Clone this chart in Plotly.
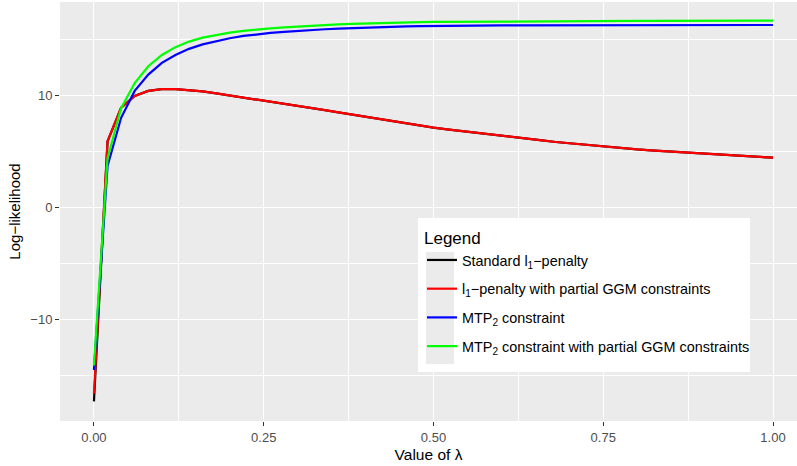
import plotly.graph_objects as go

lam = [round(i * 0.02, 2) for i in range(51)]

red = [-16.6, 5.9, 8.9, 9.95, 10.4, 10.55, 10.56, 10.48, 10.35, 10.18,
       10.0, 9.8, 9.6, 9.41, 9.22, 9.05, 8.87, 8.68, 8.48, 8.28,
       8.08, 7.88, 7.69, 7.5, 7.31, 7.12, 6.97, 6.82, 6.67, 6.52,
       6.38, 6.25, 6.11, 5.98, 5.84, 5.72, 5.6, 5.48, 5.37, 5.27,
       5.18, 5.1, 5.02, 4.95, 4.88, 4.81, 4.74, 4.67, 4.6, 4.52, 4.44]

black = [-17.3] + red[1:]

green = [-14.1, 4.4, 8.85, 11.1, 12.6, 13.6, 14.3, 14.8, 15.15, 15.4,
         15.6, 15.75, 15.88, 15.98, 16.07, 16.15, 16.22, 16.28, 16.33, 16.38,
         16.42, 16.45, 16.48, 16.51, 16.53, 16.55, 16.56, 16.57, 16.58, 16.59,
         16.6, 16.6, 16.61, 16.61, 16.62, 16.62, 16.63, 16.63, 16.63, 16.64,
         16.64, 16.64, 16.65, 16.65, 16.65, 16.65, 16.66, 16.66, 16.66, 16.66, 16.66]

blue = [-14.5, 3.7, 8.0, 10.4, 11.85, 12.9, 13.6, 14.15, 14.55, 14.85,
        15.1, 15.3, 15.45, 15.57, 15.67, 15.76, 15.84, 15.9, 15.96, 16.01,
        16.05, 16.09, 16.12, 16.15, 16.18, 16.2, 16.21, 16.22, 16.23, 16.24,
        16.24, 16.25, 16.25, 16.25, 16.26, 16.26, 16.26, 16.26, 16.27, 16.27,
        16.27, 16.27, 16.27, 16.28, 16.28, 16.28, 16.28, 16.28, 16.28, 16.28, 16.28]

series_names = [
    "Standard l<sub>1</sub>\u2212penalty",
    "l<sub>1</sub>\u2212penalty with partial GGM constraints",
    "MTP<sub>2</sub> constraint",
    "MTP<sub>2</sub> constraint with partial GGM constraints",
]
series_values = [black, red, blue, green]
series_colors = ["#000000", "#FF0000", "#0000FF", "#00FF00"]

x_ticks = [0, 0.25, 0.5, 0.75, 1.0]
x_ticklabels = ["0.00", "0.25", "0.50", "0.75", "1.00"]
y_ticks = [-10, 0, 10]
y_ticklabels = ["\u221210", "0", "10"]

fig = go.Figure()
for i, (nm, vals, col) in enumerate(zip(series_names, series_values, series_colors)):
    fig.add_trace(go.Scatter(x=lam, y=vals, mode="lines", name=nm,
                             legendgroup=f"g{i}",
                             line=dict(color=col, width=2.2)))

axis_font = "Liberation Sans, Arial, sans-serif"

# plot area geometry (pixels) used to place legend decoration
L, R, T, B = 60, 797, 2, 421
def px_x(p):
    return (p - L) / (R - L)
def px_y(p):
    return (B - p) / (B - T)

fig.update_layout(
    width=797, height=466,
    margin=dict(l=L, r=797 - R, t=T, b=466 - B, autoexpand=False),
    paper_bgcolor="white",
    plot_bgcolor="#EBEBEB",
    showlegend=True,
    legend=dict(
        title=dict(text="Legend", font=dict(size=17, color="black",
                                             family="Liberation Sans, Arial, sans-serif")),
        font=dict(size=14.4, color="black", family="Liberation Sans, Arial, sans-serif"),
        bgcolor="rgba(0,0,0,0)",
        x=px_x(422), y=px_y(222), xanchor="left", yanchor="top",
        tracegroupgap=7,
        itemwidth=30,
    ),
    xaxis=dict(
        range=[-0.05, 1.0353], automargin=False,
        tickvals=x_ticks, ticktext=x_ticklabels,
        showgrid=True, gridcolor="white", gridwidth=1.1,
        minor=dict(dtick=0.125, tick0=0, showgrid=True, gridcolor="white", gridwidth=0.55),
        zeroline=False, showline=False,
        ticks="outside", ticklen=4, tickwidth=1.07, tickcolor="#333333",
        tickfont=dict(size=13, color="#4D4D4D", family=axis_font),
        title=dict(text="Value of \u03bb", font=dict(size=15.5, color="black", family=axis_font),
                   standoff=5),
    ),
    yaxis=dict(
        range=[-19.05, 18.33], automargin=False,
        tickvals=y_ticks, ticktext=y_ticklabels,
        showgrid=True, gridcolor="white", gridwidth=1.1,
        minor=dict(dtick=5, tick0=0, showgrid=True, gridcolor="white", gridwidth=0.55),
        zeroline=False, showline=False,
        ticks="outside", ticklen=4, tickwidth=1.07, tickcolor="#333333",
        tickfont=dict(size=13, color="#4D4D4D", family=axis_font),
        title=dict(text="Log\u2212likelihood", font=dict(size=15, color="black", family=axis_font),
                   standoff=6),
    ),
    shapes=[
        dict(type="rect", xref="paper", yref="paper", layer="above",
             x0=px_x(418), x1=px_x(750), y0=px_y(372), y1=px_y(218),
             fillcolor="white", line=dict(width=0)),
        dict(type="rect", xref="paper", yref="paper", layer="above",
             x0=px_x(426), x1=px_x(454), y0=px_y(364), y1=px_y(252),
             fillcolor="#EBEBEB", line=dict(width=0)),
    ],
)

fig.write_html("out.html", config={"displayModeBar": False},
               post_script="document.body.style.margin='0';")
